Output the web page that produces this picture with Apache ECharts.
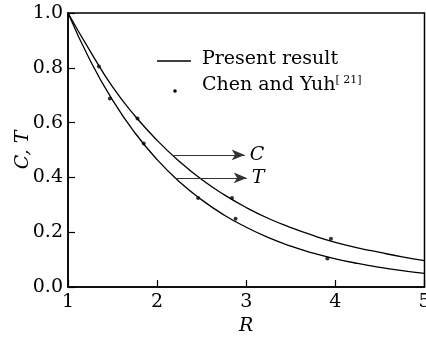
<!DOCTYPE html>
<html>
<head>
<meta charset="utf-8">
<script src="https://cdn.jsdelivr.net/npm/echarts@6/dist/echarts.min.js"></script>
<style>
  html, body { margin: 0; padding: 0; background: #fff; }
  #chart { width: 426px; height: 338px; }
</style>
</head>
<body>
<div id="chart"></div>
<script>
// R values along the computed curves
const rValues = [1, 1.25, 1.5, 1.75, 2, 2.25, 2.5, 2.75, 3, 3.25, 3.5, 3.75, 4, 4.25, 4.5, 4.75, 5]
// present result, C (upper curve)
const cValues = [1.0, 0.86, 0.73, 0.625, 0.535, 0.458, 0.392, 0.337, 0.29, 0.25, 0.217, 0.188, 0.163, 0.143, 0.126, 0.11, 0.096]
// present result, T (lower curve)
const tValues = [1.0, 0.826, 0.682, 0.563, 0.465, 0.384, 0.318, 0.263, 0.218, 0.18, 0.149, 0.124, 0.103, 0.086, 0.072, 0.06, 0.05]
// Chen and Yuh points
const chenR = [1.347, 1.47, 1.78, 1.85, 2.46, 2.84, 2.88, 3.91, 3.95]
const chenV = [0.805, 0.688, 0.615, 0.524, 0.325, 0.325, 0.249, 0.104, 0.176]
// arrow annotations: [startR, endR, value]
const arrowC = [2.165, 2.983, 0.482]
const arrowT = [2.199, 3.006, 0.398]

const serif = '"DejaVu Serif", serif'
const fs = 19

const zip = (xs, ys) => xs.map((x, i) => [x, ys[i]])

const arrowLine = (a, label) => ({
  silent: true,
  animation: false,
  symbol: ['none', 'arrow'],
  symbolSize: [8, 13],
  lineStyle: { color: '#333', width: 1.2, type: 'solid' },
  label: {
    show: true,
    position: 'end',
    distance: 5,
    formatter: label,
    color: '#000',
    fontFamily: serif,
    fontStyle: 'italic',
    fontSize: fs,
  },
  emphasis: { disabled: true },
  data: [[{ coord: [a[0], a[2]] }, { coord: [a[1], a[2]] }]],
})

const chart = echarts.init(document.getElementById('chart'))

const option = {
  animation: false,
  grid: {
    left: 68,
    right: 1.5,
    top: 13,
    bottom: 51,
    outerBoundsMode: 'none',
    show: true,
    borderColor: '#000',
    borderWidth: 1.5,
  },
  xAxis: {
    type: 'value',
    min: 1,
    max: 5,
    interval: 1,
    name: 'R',
    nameLocation: 'middle',
    nameGap: 30,
    nameMoveOverlap: false,
    nameTextStyle: { fontFamily: serif, fontStyle: 'italic', fontSize: fs, color: '#000' },
    axisLine: { lineStyle: { color: '#000', width: 1.5 } },
    axisTick: { inside: true, length: 7, lineStyle: { color: '#000', width: 1.2 } },
    axisLabel: { margin: 6, fontFamily: serif, fontSize: fs, color: '#000' },
    splitLine: { show: false },
  },
  yAxis: {
    type: 'value',
    min: 0,
    max: 1,
    interval: 0.2,
    name: 'C, T',
    nameLocation: 'middle',
    nameGap: 35,
    nameRotate: 90,
    nameMoveOverlap: false,
    nameTextStyle: { fontFamily: serif, fontStyle: 'italic', fontSize: fs, color: '#000' },
    axisLine: { lineStyle: { color: '#000', width: 1.5 } },
    axisTick: { inside: true, length: 7, lineStyle: { color: '#000', width: 1.2 } },
    axisLabel: {
      margin: 5,
      fontFamily: serif,
      fontSize: fs,
      color: '#000',
      formatter: (v) => v.toFixed(1),
    },
    splitLine: { show: false },
  },
  graphic: [
    {
      type: 'line',
      shape: { x1: 157, y1: 61, x2: 191, y2: 61 },
      style: { stroke: '#000', lineWidth: 1.3 },
    },
    {
      type: 'text',
      x: 202,
      y: 59,
      style: { text: 'Present result', fontFamily: serif, fontSize: fs, fill: '#000', verticalAlign: 'middle' },
    },
    {
      type: 'circle',
      shape: { cx: 175, cy: 91, r: 1.8 },
      style: { fill: '#000' },
    },
    {
      type: 'text',
      x: 202,
      y: 85,
      style: {
        text: '{a|Chen and Yuh}{b|[ 21]}',
        fill: '#000',
        verticalAlign: 'middle',
        rich: {
          a: { fontFamily: serif, fontSize: fs, lineHeight: 20 },
          b: { fontFamily: serif, fontSize: 11, verticalAlign: 'top', lineHeight: 12 },
        },
      },
    },
  ],
  series: [
    {
      name: 'C',
      type: 'line',
      smooth: true,
      symbol: 'none',
      lineStyle: { color: '#000', width: 1.3 },
      data: zip(rValues, cValues),
      markLine: arrowLine(arrowC, 'C'),
    },
    {
      name: 'T',
      type: 'line',
      smooth: true,
      symbol: 'none',
      lineStyle: { color: '#000', width: 1.3 },
      data: zip(rValues, tValues),
      markLine: arrowLine(arrowT, 'T'),
    },
    {
      name: 'Chen and Yuh',
      type: 'scatter',
      symbol: 'circle',
      symbolSize: 4,
      itemStyle: { color: '#000' },
      data: zip(chenR, chenV),
    },
  ],
}

option && chart.setOption(option)
</script>
</body>
</html>
